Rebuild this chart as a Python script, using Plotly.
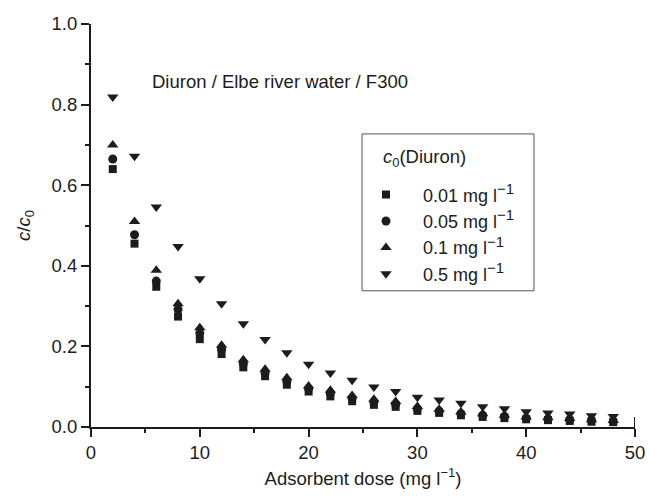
import plotly.graph_objects as go

dose = [2, 4, 6, 8, 10, 12, 14, 16, 18, 20, 22, 24, 26, 28, 30, 32, 34, 36, 38, 40, 42, 44, 46, 48]

c_001 = [0.640, 0.455, 0.348, 0.274, 0.218, 0.181, 0.148, 0.126, 0.105, 0.088, 0.076, 0.064,
         0.055, 0.050, 0.040, 0.035, 0.029, 0.025, 0.022, 0.019, 0.017, 0.015, 0.013, 0.012]
c_005 = [0.665, 0.477, 0.362, 0.292, 0.233, 0.193, 0.157, 0.134, 0.113, 0.095, 0.083, 0.071,
         0.062, 0.056, 0.045, 0.039, 0.033, 0.029, 0.026, 0.022, 0.020, 0.018, 0.016, 0.014]
c_01 = [0.700, 0.510, 0.389, 0.306, 0.246, 0.203, 0.167, 0.143, 0.122, 0.102, 0.091, 0.078,
        0.069, 0.063, 0.051, 0.044, 0.037, 0.033, 0.029, 0.025, 0.023, 0.021, 0.018, 0.016]
c_05 = [0.819, 0.672, 0.546, 0.448, 0.368, 0.306, 0.256, 0.217, 0.184, 0.156, 0.134, 0.116,
        0.099, 0.088, 0.074, 0.067, 0.059, 0.050, 0.045, 0.038, 0.035, 0.032, 0.028, 0.026]

SUP = "<sup><span style='font-size:15px'>−1</span></sup>"
labels = ["0.01 mg l" + SUP, "0.05 mg l" + SUP, "0.1 mg l" + SUP, "0.5 mg l" + SUP]
series = [c_001, c_005, c_01, c_05]
symbols = ["square", "circle", "triangle-up", "triangle-down"]
sizes = [8, 9, 10, 10]
legend_title = "<i>c</i><sub>0</sub>(Diuron)"
note = "Diuron / Elbe river water / F300"

INK = "#1c1c1c"
FONT = "Liberation Sans, Arial, sans-serif"
FS = 18.5

# pixel geometry of the plot area (used only for placing the legend frame)
PL, PR, PT, PB = 91, 635, 24, 427.3
def px(xp):
    return (xp - PL) / (PR - PL)
def py(yp):
    return (PB - yp) / (PB - PT)

fig = go.Figure()
for lab, ys, sym, sz in zip(labels, series, symbols, sizes):
    fig.add_trace(go.Scatter(x=dose, y=ys, mode="markers", name=lab,
                             marker=dict(symbol=sym, size=sz, color=INK, line=dict(width=0))))

fig.add_annotation(x=5.45, y=0.857, xref="x", yref="y", text=note,
                   showarrow=False, xanchor="left", yanchor="middle",
                   font=dict(size=FS, color=INK, family=FONT))

# legend frame and title
fig.add_shape(type="rect", xref="paper", yref="paper",
              x0=px(362), x1=px(534), y0=py(291), y1=py(134),
              line=dict(color="#555555", width=1), fillcolor="rgba(0,0,0,0)", layer="below")
fig.add_annotation(x=px(381), y=py(158), xref="paper", yref="paper", text=legend_title,
                   showarrow=False, xanchor="left", yanchor="middle",
                   font=dict(size=FS, color=INK, family=FONT))

fig.add_shape(type="line", x0=50, x1=50, y0=0, y1=0.025, xref="x", yref="y",
              line=dict(color=INK, width=2))

axis_common = dict(showline=True, linecolor=INK, linewidth=2, ticks="outside", ticklen=8,
                   tickwidth=2, tickcolor=INK, showgrid=False, zeroline=False,
                   tickfont=dict(size=FS, color=INK, family=FONT), mirror=False)

fig.update_xaxes(range=[0, 50], dtick=10, tick0=0,
                 minor=dict(ticks="outside", dtick=5, ticklen=4, tickwidth=2, tickcolor=INK),
                 title=dict(text="Adsorbent dose (mg l<sup>−1</sup>)", standoff=10,
                            font=dict(size=FS, color=INK, family=FONT)),
                 **axis_common)
fig.update_yaxes(range=[0, 1], dtick=0.2, tick0=0, tickformat=".1f",
                 minor=dict(ticks="outside", dtick=0.1, ticklen=4, tickwidth=2, tickcolor=INK),
                 title=dict(text="<i>c</i>/<i>c</i><sub>0</sub>", standoff=16,
                            font=dict(size=FS, color=INK, family=FONT)),
                 **axis_common)

fig.update_layout(
    width=649, height=497,
    margin=dict(l=PL, r=649 - PR, t=PT, b=497 - PB, autoexpand=False),
    plot_bgcolor="white", paper_bgcolor="white",
    font=dict(family=FONT, size=FS, color=INK),
    showlegend=True,
    legend=dict(x=px(349), y=py(176.5), xanchor="left", yanchor="top",
                xref="paper", yref="paper",
                borderwidth=0, bgcolor="rgba(0,0,0,0)",
                font=dict(size=18, color=INK, family=FONT),
                itemwidth=64, tracegroupgap=0, itemsizing="trace"),
)

fig.write_html("out.html", config={"displayModeBar": False},
               post_script="document.body.style.margin='0px';")
